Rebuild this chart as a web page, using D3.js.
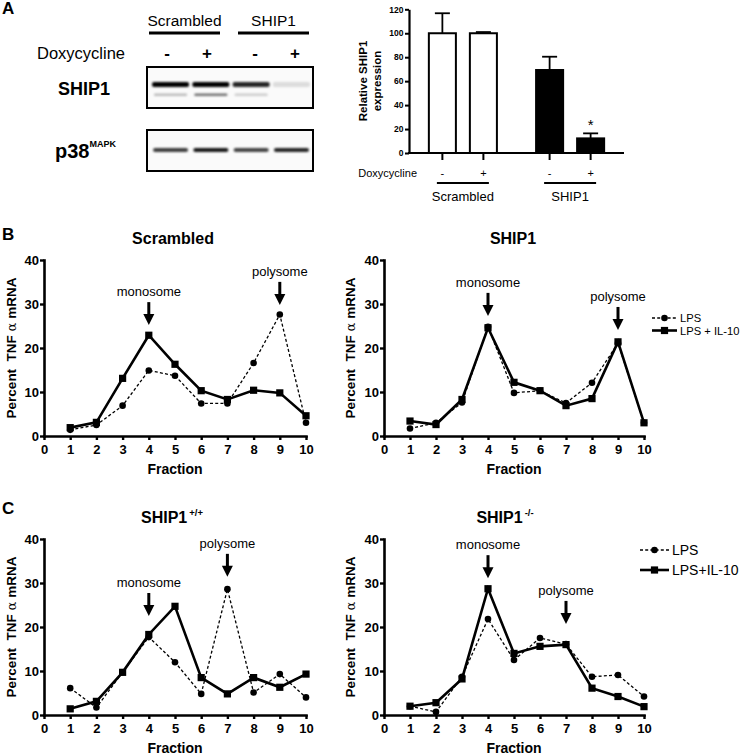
<!DOCTYPE html>
<html><head><meta charset="utf-8">
<script src="https://d3js.org/d3.v7.min.js"></script>
<style>
body{margin:0;background:#fff}
svg{display:block}
text{font-family:Arial,"Liberation Sans",sans-serif;fill:#000}
</style>
</head><body>
<script>
// ---------- data ----------
const fractions = [1,2,3,4,5,6,7,8,9,10];
const fractionTicks = [0,1,2,3,4,5,6,7,8,9,10];
const percentTicks = [0,10,20,30,40];

const scrambledLPS     = [1.4,2.5,6.9,14.9,13.7,7.4,7.4,16.6,27.6,3.0];
const scrambledLPSIL10 = [1.9,3.1,13.1,22.9,16.3,10.3,8.3,10.4,9.8,4.6];
const ship1LPS         = [1.7,3.0,7.6,24.8,9.8,10.3,7.5,12.1,21.1,3.0];
const ship1LPSIL10     = [3.4,2.6,8.3,24.6,12.2,10.3,6.9,8.5,21.4,3.0];
const wtLPS            = [6.1,1.7,9.7,17.7,12.0,4.8,28.6,5.1,9.3,4.0];
const wtLPSIL10        = [1.4,3.1,9.7,18.3,24.7,8.5,4.8,8.5,6.3,9.3];
const koLPS            = [2.0,0.7,8.7,21.8,12.5,17.5,16.1,8.7,9.1,4.2];
const koLPSIL10        = [2.0,2.8,8.2,28.7,14.0,15.6,16.0,6.1,4.2,1.9];

const barGroups   = ["Scrambled","SHIP1"];
const doxLevels   = ["-","+"];
const barValues   = [100,100,69.3,12.2];
const barErrUpper = [116.7,101,80.4,16.4];
const barTicks    = [0,20,40,60,80,100,120];

const blotLanes      = ["Scrambled -","Scrambled +","SHIP1 -","SHIP1 +"];
const ship1Band      = [1.0,1.0,0.85,0.12];
const ship1LowerBand = [0.25,0.55,0.18,0.0];
const p38Band        = [0.75,0.9,0.72,0.85];

// ---------- svg ----------
const W = 745, H = 755;
const svg = d3.select("body").append("svg").attr("width",W).attr("height",H);
const defs = svg.append("defs");
defs.append("filter").attr("id","blur").attr("x","-20%").attr("y","-100%").attr("width","140%").attr("height","300%")
  .append("feGaussianBlur").attr("stdDeviation","1.2 0.9");

function panelLetter(t,x,y){
  svg.append("text").attr("x",x).attr("y",y).attr("font-size",17).attr("font-weight","bold").text(t);
}
panelLetter("A",2,14);
panelLetter("B",2,240);
panelLetter("C",2,514);

// ---------- Panel A: blot ----------
(function(){
  const lane = d3.scaleBand().domain(blotLanes).range([150,312]).paddingInner(0.08).paddingOuter(0.05);
  const g = svg.append("g");
  [["Scrambled",149,220],["SHIP1",238,309]].forEach(([t,a,b])=>{
    g.append("text").attr("x",(a+b)/2).attr("y",26).attr("text-anchor","middle").attr("font-size",15.5).text(t);
    g.append("line").attr("x1",a).attr("x2",b).attr("y1",33).attr("y2",33).attr("stroke","#000").attr("stroke-width",3);
  });
  g.append("text").attr("x",37).attr("y",59).attr("font-size",16.5).text("Doxycycline");
  blotLanes.forEach((l,i)=>{
    g.append("text").attr("x",[167,207,255,295][i]).attr("y",59).attr("text-anchor","middle")
      .attr("font-size",17).attr("font-weight","bold").text(doxLevels[i%2]);
  });
  g.append("rect").attr("x",147).attr("y",67).attr("width",166).attr("height",41).attr("fill","#fafafa").attr("stroke","#000").attr("stroke-width",2);
  g.append("rect").attr("x",147).attr("y",130).attr("width",166).attr("height",41).attr("fill","#fafafa").attr("stroke","#000").attr("stroke-width",2);
  const bands = g.append("g").attr("filter","url(#blur)");
  blotLanes.forEach((l,i)=>{
    bands.append("rect").attr("x",lane(l)).attr("y",82).attr("width",lane.bandwidth()).attr("height",5).attr("rx",2)
      .attr("fill","#000").attr("opacity",ship1Band[i]);
    bands.append("rect").attr("x",lane(l)+2).attr("y",93.5).attr("width",lane.bandwidth()-4).attr("height",2.5).attr("rx",1)
      .attr("fill","#000").attr("opacity",ship1LowerBand[i]);
    bands.append("rect").attr("x",lane(l)+1).attr("y",148).attr("width",lane.bandwidth()-2).attr("height",4).attr("rx",2)
      .attr("fill","#000").attr("opacity",p38Band[i]);
  });
  g.append("text").attr("x",110).attr("y",95).attr("text-anchor","end").attr("font-size",18).attr("font-weight","bold").text("SHIP1");
  const p = g.append("text").attr("x",55).attr("y",158).attr("font-size",20).attr("font-weight","bold");
  p.append("tspan").text("p38");
  p.append("tspan").attr("dy",-11).attr("font-size",9).text("MAPK");
})();

// ---------- Panel A: bar chart ----------
(function(){
  const y = d3.scaleLinear().domain([0,120]).range([153,9.3]);
  const xg = d3.scaleBand().domain(barGroups).range([409,624]).paddingInner(0.235).paddingOuter(0.12);
  const xi = d3.scaleBand().domain(doxLevels).range([0,xg.bandwidth()]).paddingInner(0.341).paddingOuter(0.1705);
  const g = svg.append("g");
  const bars = barValues.map((v,i)=>({v, e:barErrUpper[i], grp:barGroups[Math.floor(i/2)], dox:doxLevels[i%2], i}));
  const cx = d=> xg(d.grp)+xi(d.dox)+xi.bandwidth()/2;
  bars.forEach(d=>{
    g.append("line").attr("x1",cx(d)).attr("x2",cx(d)).attr("y1",y(d.v)).attr("y2",y(d.e)).attr("stroke","#000").attr("stroke-width",1.8);
    g.append("line").attr("x1",cx(d)-7.5).attr("x2",cx(d)+7.5).attr("y1",y(d.e)).attr("y2",y(d.e)).attr("stroke","#000").attr("stroke-width",1.8);
  });
  bars.forEach(d=>{
    g.append("rect").attr("x",xg(d.grp)+xi(d.dox)).attr("y",y(d.v)).attr("width",xi.bandwidth()).attr("height",y(0)-y(d.v))
      .attr("fill",d.grp==="Scrambled"?"#fff":"#000").attr("stroke","#000").attr("stroke-width",2);
  });
  const ya = g.append("g").attr("transform","translate(409,0)").call(d3.axisLeft(y).tickValues(barTicks).tickSize(4).tickSizeOuter(0).tickPadding(1.5));
  ya.select(".domain").attr("stroke-width",2.2);
  ya.selectAll(".tick line").attr("stroke-width",2);
  ya.selectAll(".tick text").attr("font-size",8.5).attr("font-weight","bold").attr("font-family","Arial, Liberation Sans");
  g.append("line").attr("x1",408).attr("x2",624).attr("y1",153).attr("y2",153).attr("stroke","#000").attr("stroke-width",2.2);
  bars.forEach(d=>{
    g.append("line").attr("x1",cx(d)).attr("x2",cx(d)).attr("y1",153).attr("y2",160).attr("stroke","#000").attr("stroke-width",2);
    g.append("text").attr("x",cx(d)).attr("y",177).attr("text-anchor","middle").attr("font-size",11).text(d.dox);
  });
  g.append("text").attr("x",417).attr("y",177).attr("text-anchor","end").attr("font-size",11).text("Doxycycline");
  barGroups.forEach(grp=>{
    const c = xg(grp)+xg.bandwidth()/2;
    g.append("line").attr("x1",c-26).attr("x2",c+26).attr("y1",183).attr("y2",183).attr("stroke","#000").attr("stroke-width",2);
    g.append("text").attr("x",c).attr("y",201).attr("text-anchor","middle").attr("font-size",13).text(grp);
  });
  const last = bars[3];
  g.append("text").attr("x",cx(last)).attr("y",y(last.e)-3).attr("text-anchor","middle").attr("font-size",15).text("*");
  const yl = g.append("text").attr("transform","translate(367,81) rotate(-90)").attr("text-anchor","middle").attr("font-size",11.5).attr("font-weight","bold");
  yl.append("tspan").attr("x",0).attr("dy",0).text("Relative SHIP1");
  yl.append("tspan").attr("x",0).attr("dy",14).text("expression");
})();

// ---------- line panels ----------
function linePanel(cfg){
  const x = d3.scaleLinear().domain([0,10]).range([cfg.x0,cfg.x1]);
  const y = d3.scaleLinear().domain([0,40]).range([cfg.y0,cfg.y1]);
  const g = svg.append("g");
  const ya = g.append("g").attr("transform",`translate(${cfg.x0},0)`)
    .call(d3.axisLeft(y).tickValues(percentTicks).tickSize(4).tickSizeOuter(0).tickPadding(1));
  const xa = g.append("g").attr("transform",`translate(0,${cfg.y0})`)
    .call(d3.axisBottom(x).tickValues(fractionTicks).tickSize(4).tickSizeOuter(0).tickPadding(5));
  [ya,xa].forEach(a=>{
    a.select(".domain").attr("stroke-width",2.6).attr("stroke-linecap","square");
    a.selectAll(".tick line").attr("stroke-width",2.4);
    a.selectAll(".tick text").attr("font-size",13).attr("font-weight","bold").attr("font-family","Arial, Liberation Sans");
  });
  g.append("text").attr("x",(cfg.x0+cfg.x1)/2).attr("y",cfg.y0+38).attr("text-anchor","middle").attr("font-size",14).attr("font-weight","bold").text("Fraction");
  const yl = g.append("text").attr("transform",`translate(${cfg.ylx},${(cfg.y0+cfg.y1)/2}) rotate(-90)`).attr("text-anchor","middle")
    .attr("font-size",13.5).attr("font-weight","bold");
  yl.append("tspan").text("Percent\u00a0\u00a0TNF ");
  yl.append("tspan").attr("font-weight","normal").attr("font-family","DejaVu Serif, serif").attr("font-size",13).text("\u03b1");
  yl.append("tspan").text(" mRNA");
  const t = g.append("text").attr("x",cfg.tx).attr("y",cfg.y1-16).attr("text-anchor","middle").attr("font-size",16).attr("font-weight","bold");
  t.append("tspan").text(cfg.title);
  if(cfg.sup) t.append("tspan").attr("dy",-7).attr("dx",2).attr("font-size",9.5).text(cfg.sup);
  const line = d3.line().x((d,i)=>x(fractions[i])).y(d=>y(d));
  g.append("path").datum(cfg.lps).attr("d",line).attr("fill","none").attr("stroke","#000").attr("stroke-width",1.3).attr("stroke-dasharray","3,2.2");
  g.append("path").datum(cfg.il10).attr("d",line).attr("fill","none").attr("stroke","#000").attr("stroke-width",2.6).attr("stroke-linejoin","miter");
  g.selectAll(null).data(cfg.lps).join("circle").attr("cx",(d,i)=>x(fractions[i])).attr("cy",d=>y(d)).attr("r",3.3).attr("fill","#000");
  g.selectAll(null).data(cfg.il10).join("rect").attr("x",(d,i)=>x(fractions[i])-3.6).attr("y",d=>y(d)-3.6).attr("width",7.2).attr("height",7.2).attr("fill","#000");
  cfg.arrows.forEach(a=>{
    const ax = x(a.f), tip = y(a.tip);
    g.append("line").attr("x1",ax).attr("x2",ax).attr("y1",tip-23).attr("y2",tip-9).attr("stroke","#000").attr("stroke-width",3);
    g.append("path").attr("d",`M${ax-5.5},${tip-11}L${ax+5.5},${tip-11}L${ax},${tip}Z`).attr("fill","#000");
    g.append("text").attr("x",ax).attr("y",tip-29).attr("text-anchor","middle").attr("font-size",13).text(a.label);
  });
  if(cfg.legend){
    const L = cfg.legend;
    const r1 = L.y, r2 = L.y+L.gap;
    g.append("line").attr("x1",L.x).attr("x2",L.x+L.len).attr("y1",r1).attr("y2",r1).attr("stroke","#000").attr("stroke-width",1.3).attr("stroke-dasharray","3,2.2");
    g.append("circle").attr("cx",L.x+L.len/2).attr("cy",r1).attr("r",3.3);
    g.append("line").attr("x1",L.x).attr("x2",L.x+L.len).attr("y1",r2).attr("y2",r2).attr("stroke","#000").attr("stroke-width",2.6);
    g.append("rect").attr("x",L.x+L.len/2-3.6).attr("y",r2-3.6).attr("width",7.2).attr("height",7.2);
    g.append("text").attr("x",L.x+L.len+3).attr("y",r1+L.fs*0.36).attr("font-size",L.fs).text("LPS");
    g.append("text").attr("x",L.x+L.len+3).attr("y",r2+L.fs*0.36).attr("font-size",L.fs).text(L.second);
  }
}

linePanel({x0:44,x1:306,y0:436,y1:260,ylx:16,tx:173,title:"Scrambled",
  lps:scrambledLPS,il10:scrambledLPSIL10,
  arrows:[{f:4,tip:25.2,label:"monosome"},{f:9,tip:29.8,label:"polysome"}]});
linePanel({x0:384,x1:644,y0:436,y1:260,ylx:355,tx:513,title:"SHIP1",
  lps:ship1LPS,il10:ship1LPSIL10,
  arrows:[{f:4,tip:27.3,label:"monosome"},{f:9,tip:24.1,label:"polysome"}],
  legend:{x:652,y:318,gap:12.5,len:25,fs:11.2,second:"LPS + IL-10"}});
linePanel({x0:44,x1:306,y0:715,y1:539,ylx:16,tx:172,title:"SHIP1",sup:"+/+",
  lps:wtLPS,il10:wtLPSIL10,
  arrows:[{f:4,tip:22.5,label:"monosome"},{f:7,tip:31.4,label:"polysome"}]});
linePanel({x0:384,x1:644,y0:715,y1:539,ylx:355,tx:505,title:"SHIP1",sup:"-/-",
  lps:koLPS,il10:koLPSIL10,
  arrows:[{f:4,tip:31.1,label:"monosome"},{f:7,tip:20.7,label:"polysome"}],
  legend:{x:640,y:550,gap:20,len:29,fs:14,second:"LPS+IL-10"}});
</script>
</body></html>
